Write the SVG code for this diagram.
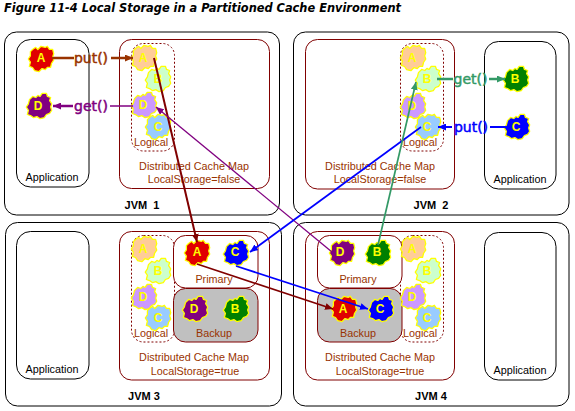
<svg xmlns="http://www.w3.org/2000/svg" xmlns:xlink="http://www.w3.org/1999/xlink" width="575" height="411" viewBox="0 0 575 411">
<style>
text{font-family:"Liberation Sans",sans-serif}
.jvm{fill:#fff;stroke:#000;stroke-width:1}
.app{fill:#fff;stroke:#000;stroke-width:1}
.map{fill:#fff;stroke:#800000;stroke-width:1}
.log{fill:none;stroke:#800000;stroke-width:1;stroke-dasharray:2 2}
.pri{fill:#fff;stroke:#800000;stroke-width:1}
.bak{fill:#c0c0c0;stroke:#800000;stroke-width:1}
.lb{font-size:10.800px;fill:#993300;text-anchor:middle}
.ap{font-size:10.800px;fill:#000;text-anchor:middle}
.jl{font-size:11px;font-weight:bold;fill:#000;text-anchor:middle;white-space:pre}
.k{font-size:12px;font-weight:bold;fill:#ff0;text-anchor:middle}
.op{font-size:14px;text-anchor:middle;font-family:"DejaVu Sans",sans-serif;stroke-width:.5}
.cl{stroke:#ff0;stroke-width:1.200;stroke-linejoin:round}
.ln{fill:none}
</style>
<defs>
<path id="c1" transform="scale(1.06)" d="M-8-9L-5-11L-3-9L0-12L4-11L6-12L8-9L11-9L12-5L11-2L12 1L10 4L9 8L6 8L4 10L1 9L-2 12L-6 11L-8 8L-11 7L-10 3L-12 0L-10-3L-10-7Z"/>
<path id="c2" transform="scale(1.06)" d="M-9-6L-6-9L-3-8L-1-10L1-9L3-12L7-12L8-9L11-8L10-5L12-2L11 1L12 4L10 7L7 8L5 11L1 12L-2 10L-5 11L-8 9L-11 8L-10 4L-12 1L-10-2Z"/>
<marker id="mR" markerUnits="userSpaceOnUse" markerWidth="9" markerHeight="7" refX="8" refY="3.500" orient="auto"><path d="M0 0L8 3.500L0 7Z" fill="#800000"/></marker>
<marker id="mB" markerUnits="userSpaceOnUse" markerWidth="9" markerHeight="7" refX="8" refY="3.500" orient="auto"><path d="M0 0L8 3.500L0 7Z" fill="#00f"/></marker>
<marker id="mP" markerUnits="userSpaceOnUse" markerWidth="9" markerHeight="7" refX="8" refY="3.500" orient="auto"><path d="M0 0L8 3.500L0 7Z" fill="#800080"/></marker>
<marker id="mG" markerUnits="userSpaceOnUse" markerWidth="9" markerHeight="7" refX="8" refY="3.500" orient="auto"><path d="M0 0L8 3.500L0 7Z" fill="#396"/></marker>
<marker id="mO" markerUnits="userSpaceOnUse" markerWidth="9" markerHeight="7" refX="8" refY="3.500" orient="auto"><path d="M0 0L8 3.500L0 7Z" fill="#930"/></marker>
</defs>
<rect width="575" height="411" fill="#fff"/>
<text x="4" y="12" font-size="11.500" font-weight="bold" font-style="italic" fill="#000" style="font-family:'DejaVu Sans',sans-serif" textLength="397" lengthAdjust="spacingAndGlyphs">Figure 11-4 Local Storage in a Partitioned Cache Environment</text>

<g id="jvm1">
<rect class="jvm" x="4.500" y="32" width="275" height="183" rx="12"/>
<text class="jl" x="142" y="209">JVM  1</text>
<g id="app1"><rect class="app" x="16.500" y="39.500" width="72.500" height="147.500" rx="14"/><text class="ap" x="52" y="181">Application</text></g>
<g id="map1"><rect class="map" x="119.500" y="39.500" width="150" height="149" rx="12"/><text class="lb" x="194" y="170">Distributed Cache Map</text><text class="lb" x="194" y="183">LocalStorage=false</text></g>
<g id="log1"><rect class="log" x="131.500" y="43.500" width="43" height="107.500" rx="12"/><text class="lb" x="151" y="146">Logical</text></g>
</g>
<g id="jvm2">
<rect class="jvm" x="293.500" y="32" width="275.500" height="183" rx="12"/>
<text class="jl" x="431" y="209">JVM  2</text>
<g id="map2"><rect class="map" x="305.500" y="39.500" width="149" height="149.500" rx="12"/><text class="lb" x="380" y="170">Distributed Cache Map</text><text class="lb" x="380" y="183">LocalStorage=false</text></g>
<g id="log2"><rect class="log" x="400.500" y="43.500" width="43" height="107.500" rx="12"/><text class="lb" x="420" y="146">Logical</text></g>
<g id="app2"><rect class="app" x="484.500" y="41.500" width="71.500" height="147.500" rx="14"/><text class="ap" x="520" y="183">Application</text></g>
</g>
<g id="jvm3">
<rect class="jvm" x="5.500" y="222.500" width="276" height="183.500" rx="12"/>
<text class="jl" x="144" y="400">JVM 3</text>
<g id="app3"><rect class="app" x="16.500" y="231.500" width="72.500" height="147.500" rx="14"/><text class="ap" x="52" y="373">Application</text></g>
<g id="map3"><rect class="map" x="119.500" y="231.500" width="150" height="148.500" rx="12"/><text class="lb" x="194" y="361">Distributed Cache Map</text><text class="lb" x="195" y="375">LocalStorage=true</text></g>
<g id="log3"><rect class="log" x="131.500" y="235.500" width="43" height="106.500" rx="12"/><text class="lb" x="151" y="337">Logical</text></g>
<g id="pri3"><rect class="pri" x="173.500" y="235.500" width="84.500" height="52.500" rx="12"/><text class="lb" x="214" y="283">Primary</text></g>
<g id="bak3"><rect class="bak" x="173.500" y="288.500" width="84.500" height="53.500" rx="12"/><text class="lb" x="214" y="337">Backup</text></g>
</g>
<g id="jvm4">
<rect class="jvm" x="293.500" y="222.500" width="275.500" height="183.500" rx="12"/>
<text class="jl" x="431" y="400">JVM 4</text>
<g id="map4"><rect class="map" x="305.500" y="231.500" width="149" height="148.500" rx="12"/><text class="lb" x="380" y="361">Distributed Cache Map</text><text class="lb" x="380" y="375">LocalStorage=true</text></g>
<g id="log4"><rect class="log" x="400.500" y="235.500" width="43" height="106.500" rx="12"/><text class="lb" x="420" y="337">Logical</text></g>
<g id="pri4"><rect class="pri" x="317.500" y="235.500" width="84.500" height="52.500" rx="12"/><text class="lb" x="358" y="283">Primary</text></g>
<g id="bak4"><rect class="bak" x="317.500" y="288.500" width="84.500" height="53.500" rx="12"/><text class="lb" x="358" y="337">Backup</text></g>
<g id="app4"><rect class="app" x="484.500" y="232.500" width="71.500" height="147.500" rx="14"/><text class="ap" x="520" y="374">Application</text></g>
</g>

<g id="n1"><use xlink:href="#c1" class="cl" x="41" y="59" fill="#e00000"/><text class="k" x="41" y="62">A</text></g>
<g id="n2"><use xlink:href="#c2" class="cl" x="39" y="106" fill="#800080"/><text class="k" x="38" y="110">D</text></g>
<g id="n3"><use xlink:href="#c1" class="cl" x="144" y="58" fill="#fc9"/><text class="k" x="143" y="62">A</text></g>
<g id="n4"><use xlink:href="#c2" class="cl" x="158" y="79" fill="#cfc"/><text class="k" x="158" y="83">B</text></g>
<g id="n5"><use xlink:href="#c2" class="cl" x="144" y="105" fill="#c9f"/><text class="k" x="143" y="109">D</text></g>
<g id="n6"><use xlink:href="#c1" class="cl" x="158" y="127" fill="#9cf"/><text class="k" x="158" y="131">C</text></g>

<g id="n7"><use xlink:href="#c1" class="cl" x="413" y="58" fill="#fc9"/><text class="k" x="412" y="62">A</text></g>
<g id="n8"><use xlink:href="#c2" class="cl" x="428" y="79" fill="#cfc"/><text class="k" x="427" y="83">B</text></g>
<g id="n9"><use xlink:href="#c2" class="cl" x="413" y="106" fill="#c9f"/><text class="k" x="412" y="110">D</text></g>
<g id="n10"><use xlink:href="#c1" class="cl" x="428" y="127" fill="#9cf"/><text class="k" x="427" y="131">C</text></g>
<g id="n11"><use xlink:href="#c2" class="cl" x="516" y="79" fill="#008000"/><text class="k" x="515" y="83">B</text></g>
<g id="n12"><use xlink:href="#c2" class="cl" x="517" y="127" fill="#00f"/><text class="k" x="516" y="131">C</text></g>

<g id="n13"><use xlink:href="#c1" class="cl" x="144" y="249" fill="#fc9"/><text class="k" x="143" y="253">A</text></g>
<g id="n14"><use xlink:href="#c2" class="cl" x="158" y="271" fill="#cfc"/><text class="k" x="158" y="275">B</text></g>
<g id="n15"><use xlink:href="#c2" class="cl" x="144" y="297" fill="#c9f"/><text class="k" x="143" y="301">D</text></g>
<g id="n16"><use xlink:href="#c1" class="cl" x="158" y="318" fill="#9cf"/><text class="k" x="158" y="322">C</text></g>
<g id="n17"><use xlink:href="#c1" class="cl" x="197" y="253" fill="#e00000"/><text class="k" x="197" y="256">A</text></g>
<g id="n18"><use xlink:href="#c2" class="cl" x="236" y="253" fill="#00f"/><text class="k" x="235" y="256">C</text></g>
<g id="n19"><use xlink:href="#c2" class="cl" x="195" y="309" fill="#800080"/><text class="k" x="194" y="313">D</text></g>
<g id="n20"><use xlink:href="#c2" class="cl" x="236" y="309" fill="#008000"/><text class="k" x="235" y="313">B</text></g>

<g id="n21"><use xlink:href="#c1" class="cl" x="413" y="249" fill="#fc9"/><text class="k" x="412" y="253">A</text></g>
<g id="n22"><use xlink:href="#c2" class="cl" x="428" y="271" fill="#cfc"/><text class="k" x="427" y="275">B</text></g>
<g id="n23"><use xlink:href="#c2" class="cl" x="413" y="297" fill="#c9f"/><text class="k" x="412" y="301">D</text></g>
<g id="n24"><use xlink:href="#c1" class="cl" x="428" y="318" fill="#9cf"/><text class="k" x="427" y="322">C</text></g>
<g id="n25"><use xlink:href="#c1" class="cl" x="342" y="253" fill="#800080"/><text class="k" x="340" y="256">D</text></g>
<g id="n26"><use xlink:href="#c2" class="cl" x="378" y="253" fill="#008000"/><text class="k" x="377" y="256">B</text></g>
<g id="n27"><use xlink:href="#c1" class="cl" x="344" y="309" fill="#e00000"/><text class="k" x="343" y="313">A</text></g>
<g id="n28"><use xlink:href="#c2" class="cl" x="381" y="309" fill="#00f"/><text class="k" x="380" y="313">C</text></g>

<g id="connectors">
<g class="ln" stroke="#930" stroke-width="2.500"><path d="M52 58H74"/><path d="M111 58H133" marker-end="url(#mO)"/></g>
<text class="op" x="91" y="63" fill="#930" stroke="#930">put()</text>
<g class="ln" stroke="#800080"><path d="M133 106H110" stroke-width="1.500"/><path d="M73 106H53" stroke-width="2.500" marker-end="url(#mP)"/></g>
<text class="op" x="91" y="111" fill="#800080" stroke="#800080">get()</text>
<g class="ln" stroke="#396" stroke-width="2.500"><path d="M437 79H453"/><path d="M489 79H505" marker-end="url(#mG)"/></g>
<text class="op" x="470.500" y="84" fill="#396" stroke="#396">get()</text>
<g class="ln" stroke="#00f" stroke-width="2"><path d="M507 127H490"/><path d="M452 127H438" marker-end="url(#mB)"/></g>
<text class="op" x="471" y="132" fill="#00f" stroke="#00f">put()</text>
<path class="ln" stroke="#800000" stroke-width="2" d="M154 58L197 242" marker-end="url(#mR)"/>
<path class="ln" stroke="#800080" stroke-width="1.300" d="M332 252L156 107" marker-end="url(#mP)"/>
<path class="ln" stroke="#00f" stroke-width="1.700" d="M421 127L250 252" marker-end="url(#mB)"/>
<path class="ln" stroke="#396" stroke-width="1.700" d="M378 245L416 82" marker-end="url(#mG)"/>
<path class="ln" stroke="#800000" stroke-width="1.700" d="M197 264L333 309" marker-end="url(#mR)"/>
<path class="ln" stroke="#00f" stroke-width="1.700" d="M236 266L368 309" marker-end="url(#mB)"/>
</g>
</svg>
